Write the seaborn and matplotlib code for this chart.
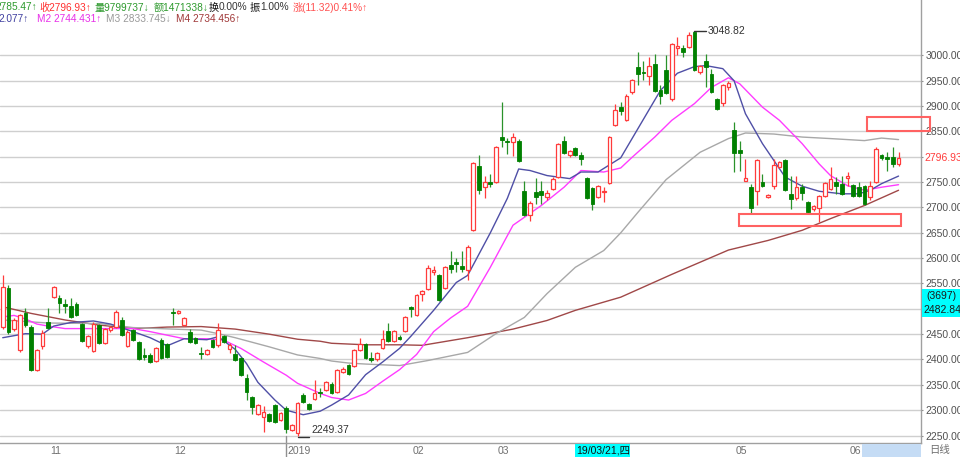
import numpy as np
import pandas as pd
import matplotlib
matplotlib.use("Agg")
import matplotlib.pyplot as plt
import matplotlib.transforms as mtransforms
from matplotlib.patches import Rectangle
from matplotlib.ticker import FuncFormatter
import seaborn as sns

# daily candles (oldest first)
opens = [2464, 2542, 2460, 2418, 2491, 2464, 2380, 2426, 2474, 2524,
         2522, 2510, 2506, 2510, 2470, 2426, 2417, 2468, 2432, 2458,
         2464, 2478, 2426, 2458, 2435, 2409, 2409, 2397, 2439, 2430,
         2494, 2491, 2469, 2455, 2443, 2412, 2411, 2438, 2428, 2447,
         2420, 2410, 2402, 2364, 2326, 2292, 2287, 2293, 2310, 2280,
         2305, 2260, 2254, 2330, 2312, 2323, 2336, 2340, 2352, 2336,
         2376, 2389, 2387, 2418, 2430, 2402, 2400, 2422, 2456, 2437,
         2445, 2456, 2503, 2487, 2530, 2539, 2572, 2566, 2541, 2587,
         2593, 2585, 2576, 2655, 2781, 2740, 2750, 2750, 2839, 2832,
         2830, 2831, 2732, 2686, 2730, 2732, 2720, 2737, 2760, 2831,
         2803, 2817, 2803, 2759, 2739, 2721, 2730, 2748, 2862, 2899,
         2872, 2928, 2977, 2967, 2959, 2984, 2931, 2972, 2914, 3015,
         3015, 3016, 3047, 2967, 2990, 2964, 2914, 2906, 2937, 2853,
         2814, 2753, 2740, 2732, 2750, 2720, 2743, 2780, 2793, 2727,
         2719, 2740, 2710, 2697, 2699, 2722, 2737, 2751, 2747, 2759,
         2745, 2740, 2743, 2720, 2750, 2803, 2799, 2799, 2785.47]
highs = [2566, 2548, 2482, 2490, 2501, 2468, 2421, 2458, 2501, 2546,
         2527, 2520, 2522, 2514, 2473, 2449, 2474, 2471, 2463, 2467,
         2497, 2484, 2458, 2461, 2437, 2422, 2412, 2424, 2442, 2433,
         2502, 2498, 2484, 2461, 2445, 2425, 2420, 2440, 2472, 2449,
         2432, 2428, 2404, 2372, 2328, 2312, 2308, 2295, 2313, 2297,
         2308, 2272, 2316, 2333, 2314, 2360, 2343, 2357, 2355, 2381,
         2385, 2392, 2420, 2442, 2432, 2415, 2414, 2458, 2472, 2459,
         2448, 2486, 2506, 2530, 2537, 2587, 2585, 2568, 2584, 2614,
         2601, 2615, 2625, 2789, 2803, 2763, 2766, 2821, 2908, 2837,
         2847, 2835, 2753, 2712, 2759, 2753, 2735, 2760, 2828, 2842,
         2814, 2820, 2809, 2761, 2741, 2744, 2740, 2841, 2905, 2908,
         2923, 2954, 3007, 2990, 2997, 3003, 2941, 3000, 3025, 3036,
         3020, 3046, 3048.82, 2982, 3003, 2974, 2916, 2943, 2949, 2868,
         2832, 2796, 2747, 2796, 2766, 2727, 2796, 2792, 2795, 2763,
         2763, 2747, 2712, 2705, 2724, 2751, 2779, 2760, 2763, 2770,
         2747, 2750, 2745, 2753, 2819, 2806, 2809, 2819, 2810]
lows = [2460, 2450, 2456, 2414, 2465, 2378, 2377, 2420, 2460, 2522,
        2491, 2491, 2482, 2485, 2434, 2423, 2415, 2430, 2430, 2455,
        2462, 2446, 2424, 2436, 2399, 2399, 2393, 2395, 2401, 2402,
        2468, 2489, 2467, 2433, 2430, 2400, 2409, 2422, 2424, 2433,
        2413, 2397, 2367, 2320, 2292, 2290, 2257, 2277, 2275, 2278,
        2254, 2258, 2249.37, 2315, 2301, 2320, 2326, 2338, 2331, 2334,
        2374, 2370, 2385, 2416, 2400, 2395, 2398, 2420, 2435, 2435,
        2439, 2454, 2483, 2485, 2516, 2537, 2566, 2516, 2539, 2570,
        2572, 2572, 2557, 2653, 2726, 2718, 2740, 2748, 2819, 2806,
        2802, 2789, 2684, 2674, 2707, 2706, 2714, 2735, 2758, 2805,
        2799, 2801, 2783, 2717, 2695, 2719, 2711, 2746, 2860, 2882,
        2870, 2924, 2941, 2952, 2941, 2928, 2905, 2924, 2911, 3000,
        2997, 3014, 2970, 2964, 2937, 2926, 2893, 2901, 2931, 2770,
        2773, 2752, 2689, 2704, 2740, 2718, 2737, 2778, 2732, 2697,
        2715, 2714, 2687, 2694, 2671, 2720, 2735, 2727, 2725, 2743,
        2720, 2720, 2705, 2714, 2748, 2793, 2773, 2780, 2782]
closes = [2543, 2455, 2478, 2487, 2468, 2380, 2418, 2453, 2462, 2543,
          2512, 2506, 2484, 2487, 2436, 2446, 2471, 2432, 2461, 2464,
          2494, 2448, 2455, 2438, 2401, 2404, 2395, 2422, 2403, 2404,
          2491, 2496, 2482, 2435, 2432, 2410, 2418, 2424, 2458, 2435,
          2428, 2399, 2369, 2336, 2307, 2310, 2297, 2279, 2277, 2295,
          2263, 2270, 2314, 2317, 2303, 2333, 2333, 2355, 2333, 2379,
          2382, 2372, 2418, 2431, 2402, 2399, 2412, 2441, 2437, 2457,
          2441, 2484, 2500, 2528, 2535, 2581, 2576, 2518, 2582, 2579,
          2589, 2579, 2623, 2787, 2735, 2751, 2747, 2819, 2834, 2829,
          2840, 2791, 2686, 2709, 2720, 2724, 2729, 2757, 2826, 2807,
          2812, 2803, 2796, 2719, 2707, 2742, 2733, 2839, 2893, 2890,
          2921, 2952, 2964, 2965, 2980, 2930, 2921, 2926, 3023, 3018,
          3007, 3041, 2972, 2980, 2977, 2928, 2895, 2941, 2945, 2807,
          2808, 2758, 2699, 2794, 2742, 2725, 2783, 2789, 2734, 2717,
          2741, 2728, 2691, 2703, 2722, 2749, 2757, 2743, 2727, 2762,
          2722, 2722, 2707, 2743, 2816, 2798, 2796, 2785.61, 2796.93]

# moving average lines (candle index, value)
m1_x = [0, 4, 7, 9, 12, 16, 19, 23, 26, 29, 32, 36, 38, 41, 43, 45, 48, 50, 53, 56,
        58, 61, 64, 67, 70, 72, 76, 80, 82, 86, 89, 91, 93, 96, 100, 102, 105, 109,
        112, 116, 119, 122, 124, 127, 129, 131, 134, 136, 138, 141, 144, 148, 151,
        153, 155, 158]
m1_y = [2443, 2451, 2450, 2466, 2473, 2476, 2470, 2455, 2443, 2427, 2441, 2439, 2445,
        2420, 2392, 2355, 2320, 2300, 2291, 2298, 2310, 2330, 2370, 2395, 2422, 2446,
        2497, 2552, 2566, 2650, 2718, 2776, 2773, 2763, 2757, 2770, 2770, 2798, 2855,
        2931, 2965, 2978, 2980, 2974, 2950, 2885, 2826, 2793, 2760, 2742, 2732, 2727,
        2727, 2734, 2747, 2762]
m2_x = [0, 2, 4, 6, 8, 11, 17, 23, 26, 29, 32, 36, 39, 42, 46, 50, 52, 56, 58, 61,
        64, 67, 70, 73, 76, 79, 82, 86, 90, 95, 99, 102, 106, 109, 111, 115, 118, 122,
        125, 128, 130, 134, 137, 141, 144, 146, 149, 152, 155, 158]
m2_y = [2484, 2487, 2480, 2470, 2466, 2461, 2461, 2461, 2455, 2448, 2441, 2441, 2438,
        2422, 2395, 2369, 2353, 2333, 2325, 2320, 2333, 2357, 2380, 2410, 2455, 2482,
        2505, 2582, 2665, 2704, 2740, 2773, 2770, 2778, 2799, 2839, 2872, 2905, 2937,
        2956, 2944, 2898, 2872, 2826, 2786, 2763, 2743, 2734, 2740, 2745]
m3_x = [0, 8, 17, 23, 30, 35, 38, 41, 47, 52, 56, 58, 61, 64, 70, 75, 82, 87, 92, 96,
        101, 106, 109, 112, 117, 123, 128, 131, 136, 141, 146, 152, 155, 158]
m3_y = [2478, 2472, 2471, 2463, 2460, 2458, 2451, 2443, 2425, 2409, 2402, 2397, 2393,
        2391, 2388, 2398, 2414, 2451, 2483, 2530, 2582, 2615, 2650, 2690, 2755, 2809,
        2836, 2847, 2845, 2839, 2836, 2832, 2837, 2834]
m4_x = [0, 5, 11, 17, 23, 29, 35, 41, 47, 52, 56, 58, 64, 70, 74, 82, 90, 96, 101,
        109, 118, 128, 135, 141, 146, 152, 158]
m4_y = [2504, 2491, 2478, 2468, 2461, 2464, 2465, 2460, 2450, 2440, 2436, 2432, 2429,
        2429, 2428, 2443, 2460, 2477, 2497, 2523, 2568, 2616, 2635, 2655, 2678, 2704,
        2734]

# month ticks; "04" sits under the cursor date box in the screenshot
month_pos = [8, 30, 50, 72, 87, 108, 129, 149]
month_labels = ["11", "12", "2019", "02", "03", "", "05", "06"]
week_pos = [-0.2, 4.8, 10.1, 15.1, 20.1, 25.1, 34.8, 40.1, 44.8, 54.8, 58.3, 63, 67.7,
            77.1, 83, 93, 98.3, 103.6, 111.2, 116.2, 121.8, 134.7, 139.4, 144.4,
            154.4, 159.4]
# right axis labels covered by the price / cursor tags
hidden_y = [2500, 2800]

# red marker boxes: (x0, x1, y0, y1) in candle index / price
boxes = [(152.4, 163.5, 2850, 2879), (129.9, 158.4, 2664, 2687)]

RED = "#ff3b3b"
GREEN = "#008000"
W, H = 960, 457


def fx(px):
    return px / W


def fy(py):
    return 1 - py / H


sns.set_style("white")
plt.rcParams["font.family"] = ["Liberation Sans", "Noto Sans CJK SC", "DejaVu Sans"]

df = pd.DataFrame({"open": opens, "high": highs, "low": lows, "close": closes})
df["idx"] = np.arange(len(df))
up = df["close"] >= df["open"]

fig = plt.figure(figsize=(9.6, 4.57), dpi=100)
fig.patch.set_facecolor("white")
ax = fig.add_axes([0, fy(443), fx(921), 443 / H])
ax.set_xlim(-0.48, 161.96)
ax.set_ylim(2235.2, 3109.5)

# grid + axes
ax.set_yticks(np.arange(2250, 3001, 50))
ax.yaxis.set_major_formatter(FuncFormatter(
    lambda v, p: "" if round(v) in hidden_y else f"{v:.2f}"))
ax.yaxis.tick_right()
ax.grid(axis="y", color="#cfcfcf", lw=1.0, zorder=0)
ax.tick_params(axis="y", length=1.5, pad=1.5, color="#909090",
               labelcolor="#505050", labelsize=7.5)
for s in ["left", "top"]:
    ax.spines[s].set_visible(False)
for s in ["right", "bottom"]:
    ax.spines[s].set_color("#a0a0a0")
    ax.spines[s].set_linewidth(1)

ax.set_xticks(month_pos)
ax.set_xticks(week_pos, minor=True)
ax.tick_params(axis="x", which="major", length=4.3, color="#909090", labelbottom=False)
ax.tick_params(axis="x", which="minor", length=2.2, color="#909090")

# moving averages
sns.lineplot(x=m4_x, y=m4_y, ax=ax, color="#a04848", lw=1.0, zorder=2)
sns.lineplot(x=m3_x, y=m3_y, ax=ax, color="#a8a8a8", lw=1.0, zorder=2)
sns.lineplot(x=m2_x, y=m2_y, ax=ax, color="#ff3cff", lw=1.0, zorder=2)
sns.lineplot(x=m1_x, y=m1_y, ax=ax, color="#4f4fa6", lw=1.0, zorder=2)

# candles
ax.vlines(df["idx"][up], df["low"][up], df["high"][up], color=RED, lw=0.9, zorder=3)
ax.vlines(df["idx"][~up], df["low"][~up], df["high"][~up], color="#2a922a", lw=0.9, zorder=3)
ax.bar(df["idx"][up], (df["close"] - df["open"])[up], bottom=df["open"][up], width=0.66,
       facecolor="white", edgecolor=RED, lw=0.9, zorder=4)
ax.bar(df["idx"][~up], (df["open"] - df["close"])[~up], bottom=df["close"][~up], width=0.66,
       facecolor=GREEN, edgecolor=GREEN, lw=0.6, zorder=4)

# high / low notes
hi = df["high"].idxmax()
lo = df["low"].idxmin()
ax.plot([hi, hi + 2.1], [df["high"][hi]] * 2, color="#333333", lw=1, zorder=5)
ax.text(hi + 2.4, df["high"][hi], f"{df['high'][hi]:.2f}", ha="left", va="center",
        fontsize=7.5, color="#333333")
ax.plot([lo, lo + 2.0], [df["low"][lo] - 2] * 2, color="#333333", lw=1, zorder=5,
        clip_on=False)
ax.text(lo + 2.4, df["low"][lo] + 12, f"{df['low'][lo]:.2f}", ha="left", va="center",
        fontsize=7.5, color="#333333")

for x0, x1, y0, y1 in boxes:
    ax.add_patch(Rectangle((x0, y0), x1 - x0, y1 - y0, fill=False, edgecolor="#ff6262",
                           lw=1.5, zorder=6, clip_on=False))

# date strip
bt = mtransforms.blended_transform_factory(ax.transData, fig.transFigure)
for p, lab in zip(month_pos, month_labels):
    if lab:
        ax.text(p + 0.3, fy(450.5), lab, transform=bt, ha="left", va="center",
                fontsize=7.5, color="#707070", zorder=3, clip_on=False)
ax.plot([50, 50], [fy(436), fy(457)], transform=bt, color="#909090", lw=1, clip_on=False)
ax.add_patch(Rectangle((100.9, 0), 9.7, 13 / H, transform=bt, facecolor="#00ffff",
                       edgecolor="none", zorder=10, clip_on=False))
ax.text(101.1, fy(450.5), "19/03/21,四", transform=bt, ha="left", va="center",
        fontsize=7.5, color="#111111", zorder=11, clip_on=False)
ax.add_patch(Rectangle((151.6, 0), 10.4, 13 / H, transform=bt, facecolor="#c5dcf5",
                       edgecolor="none", zorder=10, clip_on=False))
fig.text(fx(929), fy(450), "日线", ha="left", va="center", fontsize=7.5, color="#707070")

# right axis labels
fig.text(fx(924), fy(158.4), f"{closes[-1]:.2f}", ha="left", va="center",
         fontsize=7.5, color=RED)
fig.patches.append(Rectangle((fx(921.5), fy(317)), fx(40), 28 / H, transform=fig.transFigure,
                             facecolor="#00ffff", edgecolor="none", zorder=5))
fig.text(fx(941), fy(296), "(3697)", ha="center", va="center", fontsize=7.5, color="#1a1a1a",
         zorder=6)
fig.text(fx(923), fy(310), "2482.84", ha="left", va="center", fontsize=7.5, color="#1a1a1a",
         zorder=6)

# header
header1 = [("2785.47↑", -5, "#2e9a2e"), ("收2796.93↑", 39.3, "#ff3030"),
           ("量9799737↓", 94.3, "#2e9a2e"), ("额1471338↓", 153.3, "#2e9a2e"),
           ("换", 208.3, "#111111"), ("0.00%", 219, "#333333"),
           ("振", 249.3, "#111111"), ("1.00%", 260, "#333333"),
           ("涨(11.32)0.41%↑", 292.7, "#ff5050")]
header2 = [("2.077↑", -2, "#4040a0"), ("M2 2744.431↑", 36.7, "#e830e8"),
           ("M3 2833.745↓", 106, "#999999"), ("M4 2734.456↑", 175.7, "#a03838")]
for txt, x, c in header1:
    fig.text(fx(x), fy(7.5), txt, ha="left", va="center", fontsize=7.3, color=c)
for txt, x, c in header2:
    fig.text(fx(x), fy(19.5), txt, ha="left", va="center", fontsize=7.3, color=c)

fig.savefig("out.png", dpi=100)
